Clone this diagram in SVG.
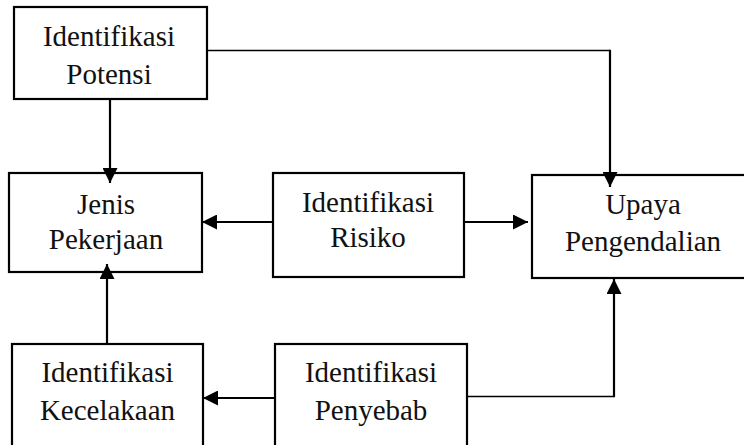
<svg xmlns="http://www.w3.org/2000/svg" width="744" height="445" viewBox="0 0 744 445">
<style>
.box{fill:#fff;stroke:#000;stroke-width:2.2}
.c{fill:none;stroke:#000;stroke-width:2.2}
.thin{fill:none;stroke:#000;stroke-width:1.4}
</style>
<defs>
<marker id="ah" markerUnits="userSpaceOnUse" markerWidth="15" markerHeight="15" refX="15" refY="7.5" orient="auto" viewBox="0 0 15 15">
<path d="M0,0 L15,7.5 L0,15 z" fill="#000"/>
</marker>
</defs>
<rect width="744" height="445" fill="#fff"/>
<g font-family="Liberation Serif, Times New Roman, serif" font-size="29" fill="#111" text-anchor="middle">
<g id="identifikasi-potensi">
<rect class="box" x="14" y="7" width="193" height="92"/>
<text x="109" y="46">Identifikasi</text>
<text x="109" y="84">Potensi</text>
</g>
<g id="jenis-pekerjaan">
<rect class="box" x="9" y="173" width="193" height="99"/>
<text x="106" y="214">Jenis</text>
<text x="106" y="249">Pekerjaan</text>
</g>
<g id="identifikasi-risiko">
<rect class="box" x="273" y="173" width="191" height="104"/>
<text x="368" y="212">Identifikasi</text>
<text x="368" y="247">Risiko</text>
</g>
<g id="upaya-pengendalian">
<rect class="box" x="532" y="175" width="222" height="103"/>
<text x="643" y="214">Upaya</text>
<text x="643" y="251">Pengendalian</text>
</g>
<g id="identifikasi-kecelakaan">
<rect class="box" x="12" y="344" width="191" height="110"/>
<text x="107.5" y="382">Identifikasi</text>
<text x="107.5" y="420">Kecelakaan</text>
</g>
<g id="identifikasi-penyebab">
<rect class="box" x="275" y="344" width="192" height="110"/>
<text x="371" y="382">Identifikasi</text>
<text x="371" y="420">Penyebab</text>
</g>
</g>
<g id="connectors">
<line class="c" x1="110" y1="99" x2="110" y2="183" marker-end="url(#ah)"/>
<polyline class="thin" points="207,50.5 610,50.5"/>
<line class="c" x1="610" y1="49.8" x2="610" y2="187" marker-end="url(#ah)"/>
<line class="c" x1="273" y1="222" x2="202" y2="222" marker-end="url(#ah)"/>
<line class="c" x1="464" y1="222" x2="528" y2="222" marker-end="url(#ah)"/>
<line class="c" x1="107" y1="344" x2="107" y2="264" marker-end="url(#ah)"/>
<line class="c" x1="275" y1="398" x2="203" y2="398" marker-end="url(#ah)"/>
<polyline class="thin" points="467,396.5 614,396.5"/>
<line class="c" x1="614" y1="397.2" x2="614" y2="279" marker-end="url(#ah)"/>
</g>
</svg>
